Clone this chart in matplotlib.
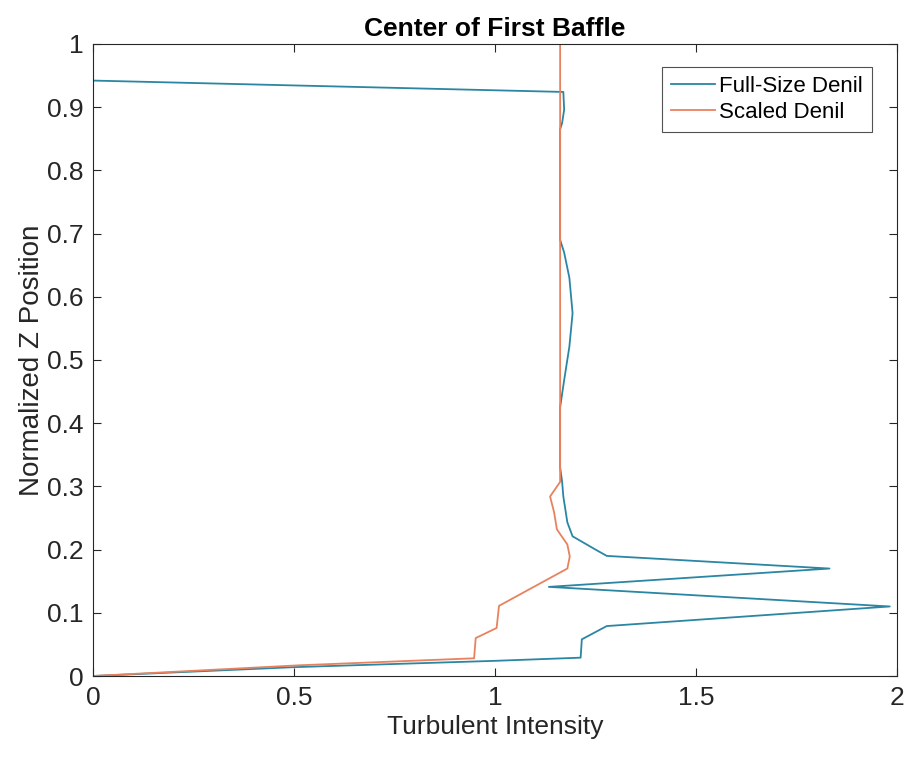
import numpy as np
import matplotlib.pyplot as plt

plt.rcParams['font.family'] = ['Liberation Sans', 'DejaVu Sans']

# Full-Size Denil profile (turbulent intensity vs normalized z)
full_ti = np.array([0.0, 0.5, 1.0, 1.213, 1.216, 1.278, 1.982, 1.134, 1.832, 1.278,
                    1.25, 1.193, 1.18, 1.17, 1.167, 1.162, 1.162, 1.172, 1.185, 1.193,
                    1.185, 1.172, 1.162, 1.162, 1.167, 1.172, 1.17, 0.0, 0.0])
full_z = np.array([0.0, 0.014, 0.024, 0.029, 0.058, 0.079, 0.110, 0.141, 0.170, 0.190,
                   0.20, 0.221, 0.243, 0.284, 0.307, 0.33, 0.425, 0.468, 0.521, 0.574,
                   0.63, 0.67, 0.69, 0.865, 0.875, 0.896, 0.924, 0.942, 1.0])

# Scaled Denil profile
scaled_ti = np.array([0.0, 0.515, 0.948, 0.952, 1.004, 1.01, 1.18, 1.186, 1.18, 1.154,
                      1.147, 1.137, 1.162, 1.162])
scaled_z = np.array([0.0, 0.017, 0.028, 0.060, 0.076, 0.111, 0.170, 0.189, 0.208, 0.232,
                     0.259, 0.284, 0.307, 1.0])

fig = plt.figure(figsize=(9.07, 7.57), dpi=100)
ax = fig.add_axes([0.1025, 0.107, 0.8865, 0.835])

ax.plot(full_ti, full_z, color='#2a86a3', lw=1.3, label='Full-Size Denil')
ax.plot(scaled_ti, scaled_z, color='#e8825e', lw=1.3, label='Scaled Denil')

ax.set_xlim(0, 2)
ax.set_ylim(0, 1)
ax.set_xticks([0, 0.5, 1, 1.5, 2])
ax.set_xticklabels(['0', '0.5', '1', '1.5', '2'])
ax.set_yticks(np.arange(0, 1.01, 0.1))
ax.set_yticklabels(['0', '0.1', '0.2', '0.3', '0.4', '0.5', '0.6', '0.7', '0.8', '0.9', '1'])
ax.tick_params(direction='in', length=6, labelsize=19, colors='#262626',
               top=True, right=True, pad=7)
for s in ax.spines.values():
    s.set_color('#262626')
    s.set_linewidth(0.8)

ax.set_xlabel('Turbulent Intensity', fontsize=19, color='#262626', labelpad=4)
ax.set_ylabel('Normalized Z Position', fontsize=20, color='#262626', labelpad=1)
ax.set_title('Center of First Baffle', fontsize=19, fontweight='bold', pad=6)

leg = ax.legend(loc='upper right', bbox_to_anchor=(0.969, 0.964), fontsize=16,
                handlelength=2.0, handletextpad=0.2, fancybox=False,
                edgecolor='#262626', borderpad=0.4, labelspacing=0.25,
                borderaxespad=0)
leg.get_frame().set_linewidth(0.8)

fig.savefig('out.png', dpi=100)
